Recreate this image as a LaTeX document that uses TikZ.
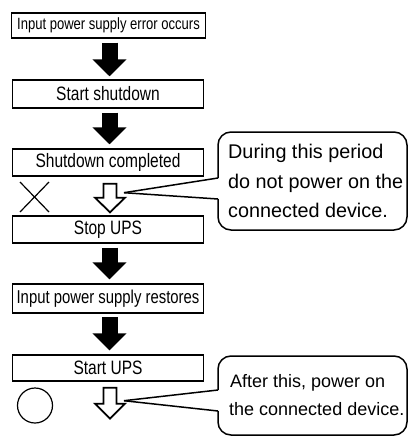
\documentclass[tikz,border=0pt]{standalone}
\usepackage{fontspec}
\setmainfont{Liberation Sans}
\newfontfamily\narrowfont{Liberation Sans}[FakeStretch=0.8]
\usetikzlibrary{arrows.meta,calc}
\begin{document}
\begin{tikzpicture}[x=1pt,y=-1pt,
  box/.style={draw, line width=1.4pt, inner sep=0pt, minimum width=191pt,
    font=\narrowfont\fontsize{19.4}{21}\selectfont},
  blackarrow/.style={line width=16pt, -{Triangle[width=33pt,length=17pt]}},
  hollow/.style={draw, line width=1.8pt, fill=white, line join=miter},
  callout/.style={draw, line width=1.5pt, rounded corners=13pt, inner sep=0pt},
  ctext/.style={anchor=base west, inner sep=0pt, font=\fontsize{18}{22}\selectfont},
  ctextbig/.style={ctext, font=\fontsize{19.8}{22}\selectfont},
  pointer/.style={line width=1.5pt},
  marksign/.style={line width=1.2pt}]
\useasboundingbox (0,0) rectangle (410,436);

% flow boxes
\node[box, minimum width=194pt, minimum height=25pt,
  font=\narrowfont\fontsize{16.3}{18}\selectfont] (b1) at (108.5,25.5) {Input power supply error occurs};
\node[box, minimum height=28pt] (b2) at (108,94) {Start shutdown};
\node[box, minimum height=27pt] (b3) at (108,162.5) {Shutdown completed};
\node[box, minimum height=27pt] (b4) at (108,229.5) {Stop UPS};
\node[box, minimum height=29pt,
  font=\narrowfont\fontsize{18.6}{20}\selectfont] (b5) at (108,298.5) {Input power supply restores};
\node[box, minimum height=26pt] (b6) at (108,368) {Start UPS};

% black arrows
\draw[blackarrow] ($(b1.south)+(1,4)$) -- ($(b2.north)+(1.5,-3)$);
\draw[blackarrow] ($(b2.south)+(1.5,4)$) -- ($(b3.north)+(1.5,-4)$);
\draw[blackarrow] ($(b4.south)+(1.5,4)$) -- ($(b5.north)+(1.5,-4)$);
\draw[blackarrow] ($(b5.south)+(1.5,3.5)$) -- ($(b6.north)+(1.5,-4)$);

% hollow arrows
\draw[hollow] ($(b3.south)+(-4.5,7)$) -- ($(b3.south)+(8.5,7)$) -- ($(b3.south)+(8.5,21)$)
  -- ($(b3.south)+(17,21)$) -- ($(b4.north)+(2,-3)$) -- ($(b3.south)+(-13,21)$)
  -- ($(b3.south)+(-4.5,21)$) -- cycle;
\draw[hollow] ($(b6.south)+(-4.5,6)$) -- ($(b6.south)+(8.5,6)$) -- ($(b6.south)+(8.5,22)$)
  -- ($(b6.south)+(17,22)$) -- ($(b6.south)+(2,37)$) -- ($(b6.south)+(-13,22)$)
  -- ($(b6.south)+(-4.5,22)$) -- cycle;

% marks
\draw[marksign] (20,182) -- (49,212);
\draw[marksign] (20,212) -- (49,182);
\draw[marksign] (35,405.5) circle[radius=17.5pt];

% callout 1
\node[callout, minimum width=189pt, minimum height=98pt] (c1) at (312.5,181) {};
\coordinate (tip1) at ($(b3.south)+(16,16)$);
\coordinate (c1a) at (218,178);
\coordinate (c1b) at (218,199);
\fill[white] (tip1) -- ($(c1a)+(2,0)$) -- ($(c1b)+(2,0)$) -- cycle;
\draw[pointer] (c1a) -- (tip1);
\draw[pointer] (tip1) -- (c1b);
\node[ctextbig] (t11) at (228,158) {During this period};
\node[ctextbig] (t12) at (228,188) {do not power on the};
\node[ctextbig] (t13) at (228,217) {connected device.};

% callout 2
\node[callout, minimum width=189pt, minimum height=79pt] (c2) at (312.5,395.5) {};
\coordinate (tip2) at ($(b6.south)+(16,19)$);
\coordinate (c2a) at (218,390);
\coordinate (c2b) at (218,411);
\fill[white] (tip2) -- ($(c2a)+(2,0)$) -- ($(c2b)+(2,0)$) -- cycle;
\draw[pointer] (c2a) -- (tip2);
\draw[pointer] (tip2) -- (c2b);
\node[ctext] (t21) at (230,387) {After this, power on};
\node[ctext] (t22) at (229,415) {the connected device.};
\end{tikzpicture}
\end{document}
